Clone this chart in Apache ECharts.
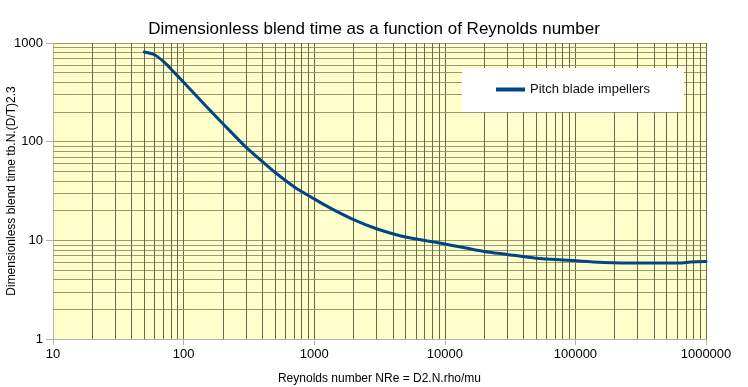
<!DOCTYPE html>
<html>
<head>
<meta charset="utf-8">
<script src="https://cdn.jsdelivr.net/npm/echarts@6/dist/echarts.min.js"></script>
<style>
html,body{margin:0;padding:0;background:#fff;}
#chart{width:748px;height:387px;}
</style>
</head>
<body>
<div id="chart"></div>
<script>
const chartTitle = 'Dimensionless blend time as a function of Reynolds number';
const xAxisName = 'Reynolds number NRe = D2.N.rho/mu';
const yAxisName = 'Dimensionless blend time tb.N.(D/T)2.3';
const seriesName = 'Pitch blade impellers';
const reynolds = [50, 60, 70, 80, 100, 150, 200, 300, 400, 500, 700, 1000, 1320, 2000, 3000, 5000, 10000, 20000, 30000, 50000, 90000, 137000, 250000, 630000, 760000, 1000000];
const blendTime = [810, 760, 650, 545, 400, 226, 152, 88, 63, 49, 35, 26.3, 21.3, 16.2, 13.1, 10.8, 9.2, 7.7, 7.2, 6.6, 6.27, 6.04, 5.9, 5.9, 6.04, 6.1];
const xMinorGrid = [20,30,40,50,60,70,80,90,200,300,400,500,600,700,800,900,2000,3000,4000,5000,6000,7000,8000,9000,20000,30000,40000,50000,60000,70000,80000,90000,200000,300000,400000,500000,600000,700000,800000,900000];
const yMinorGrid = [2,3,4,5,6,7,8,9,20,30,40,50,60,70,80,90,200,300,400,500,600,700,800,900];

const FONT = '"Liberation Sans", Arial, sans-serif';
const vColor = '#6b6850';
const hColor = '#9c9774';

const chart = echarts.init(document.getElementById('chart'), null, {renderer: 'canvas'});
chart.setOption({
  animation: false,
  backgroundColor: '#ffffff',
  title: {
    text: chartTitle,
    left: 'center',
    top: 16,
    textStyle: {fontFamily: FONT, fontSize: 17, fontWeight: 'normal', color: '#000'}
  },
  legend: {
    left: 462,
    top: 68,
    z: 50,
    padding: [15, 34, 16, 34],
    backgroundColor: '#ffffff',
    icon: 'rect',
    itemWidth: 29,
    itemHeight: 4,
    textStyle: {fontFamily: FONT, fontSize: 13, color: '#111'},
    data: [seriesName]
  },
  grid: {left: 53, right: 42, top: 43, bottom: 48, outerBoundsMode: 'none', containLabel: false,
    show: true, backgroundColor: '#ffffcc', borderWidth: 0},
  xAxis: {
    type: 'log', logBase: 10, min: 10, max: 1000000,
    name: xAxisName, nameLocation: 'middle', nameGap: 34, nameMoveOverlap: false,
    nameTextStyle: {fontFamily: FONT, fontSize: 12, color: '#000'},
    axisLine: {show: true, lineStyle: {color: '#b3b3b3'}},
    axisTick: {show: true, length: 6, lineStyle: {color: '#b3b3b3'}},
    axisLabel: {fontFamily: FONT, fontSize: 13, color: '#000', margin: 9, formatter: v => String(v)},
    splitLine: {show: true, lineStyle: {color: vColor, width: 1}}
  },
  yAxis: {
    type: 'log', logBase: 10, min: 1, max: 1000,
    name: yAxisName, nameLocation: 'middle', nameGap: 35, nameMoveOverlap: false,
    nameTextStyle: {fontFamily: FONT, fontSize: 12, color: '#000', padding: 0},
    axisLine: {show: true, lineStyle: {color: '#b3b3b3'}},
    axisTick: {show: true, length: 7, lineStyle: {color: '#b3b3b3'}},
    axisLabel: {fontFamily: FONT, fontSize: 13, color: '#000', margin: 10, formatter: v => String(v)},
    splitLine: {show: true, lineStyle: {color: hColor, width: 1}}
  },
  series: [
    {
      name: 'hgrid', type: 'line', z: 1, silent: true,
      data: [[10, 1]], symbol: 'none', lineStyle: {opacity: 0},
      markLine: {silent: true, symbol: 'none', animation: false, label: {show: false},
        lineStyle: {color: hColor, width: 1, type: 'solid'},
        data: yMinorGrid.map(v => ({yAxis: v}))}
    },
    {
      name: 'vgrid', type: 'line', z: 1, silent: true,
      data: [[10, 1]], symbol: 'none', lineStyle: {opacity: 0},
      markLine: {silent: true, symbol: 'none', animation: false, label: {show: false},
        lineStyle: {color: vColor, width: 1, type: 'solid'},
        data: xMinorGrid.map(v => ({xAxis: v}))}
    },
    {
      name: seriesName, type: 'line', z: 5,
      data: reynolds.map((r, i) => [r, blendTime[i]]),
      symbol: 'none', smooth: 0.25,
      itemStyle: {color: '#004586'},
      lineStyle: {color: '#004586', width: 3, join: 'round', cap: 'round'}
    }
  ]
});
</script>
</body>
</html>
